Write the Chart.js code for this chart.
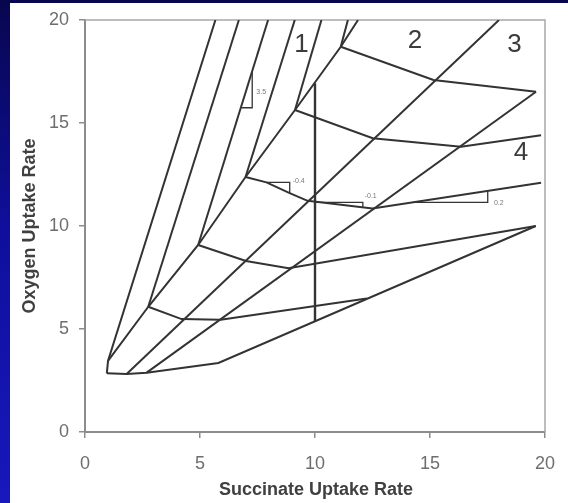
<!DOCTYPE html>
<html>
<head>
<meta charset="utf-8">
<script src="https://cdn.jsdelivr.net/npm/chart.js@4.4.1/dist/chart.umd.min.js"></script>
<style>
  html, body { margin: 0; padding: 0; width: 568px; height: 503px; overflow: hidden; background: #fff; }
  #frame { position: absolute; left: 0; top: 0; width: 568px; height: 503px;
           background: linear-gradient(to bottom, #08064e 0%, #0f0f9c 45%, #1818bc 100%); }
  #sheet { position: absolute; left: 10px; top: 3px; right: 0; bottom: 0; background: #ffffff; }
  #plot { position: absolute; left: 0; top: 0; }
</style>
</head>
<body>
<div id="frame"></div>
<div id="sheet"></div>
<canvas id="plot" width="568" height="503"></canvas>
<script>
// Axis ticks
const xTicks = [0, 5, 10, 15, 20];
const yTicks = [0, 5, 10, 15, 20];

// Lower edge of the feasible region
const edgeX = [0.95, 1.81, 2.68, 5.80, 19.60];
const edgeY = [2.85, 2.82, 2.88, 3.35, 10.00];

// Lines fanning out from the lower-left corner
const fanAX = [0.95, 1.00, 5.67];
const fanAY = [2.85, 3.45, 20.00];
const fanBX = [1.00, 2.75, 4.92, 6.98, 9.13, 11.12, 11.87];
const fanBY = [3.45, 6.08, 9.08, 12.38, 15.63, 18.70, 20.00];
const fanCX = [1.81, 18.00];
const fanCY = [2.82, 20.00];
const fanDX = [2.68, 19.61];
const fanDY = [2.88, 16.52];

// Steep segments rising from each isocline corner
const steep1X = [2.75, 6.69];   const steep1Y = [6.08, 20.00];
const steep2X = [4.92, 7.96];   const steep2Y = [9.08, 20.00];
const steep3X = [6.98, 9.12];   const steep3Y = [12.38, 20.00];
const steep4X = [9.13, 10.28];  const steep4Y = [15.63, 20.00];
const steep5X = [11.12, 11.43]; const steep5Y = [18.70, 20.00];

// Isoclines (constant growth rate)
const iso1X = [2.75, 4.20, 5.90, 12.25];
const iso1Y = [6.08, 5.48, 5.45, 6.48];
const iso2X = [4.92, 7.00, 8.85, 19.60];
const iso2Y = [9.08, 8.30, 7.95, 10.00];
const iso3X = [6.98, 7.89, 8.90, 9.68, 12.50, 19.83];
const iso3Y = [12.38, 12.12, 11.60, 11.22, 10.85, 12.10];
const iso4X = [9.13, 12.51, 16.35, 19.83];
const iso4Y = [15.63, 14.26, 13.85, 14.40];
const iso5X = [11.12, 15.15, 19.61];
const iso5Y = [18.70, 17.09, 16.52];

// Fixed succinate uptake line
const cutX = [10.0, 10.0];
const cutY = [5.38, 16.93];

// Slope triangles
const tri1X = [6.80, 7.27, 7.27];    const tri1Y = [15.74, 15.74, 17.49];
const tri2X = [7.89, 8.90, 8.90];    const tri2Y = [12.12, 12.12, 11.60];
const tri3X = [10.03, 12.08, 12.08]; const tri3Y = [11.15, 11.15, 10.90];
const tri4X = [14.26, 17.51, 17.51]; const tri4Y = [11.15, 11.15, 11.71];

// Slope values and where they are written
const slopeText = ['3.5', '-0.4', '-0.1', '0.2'];
const slopeX = [7.45, 9.03, 12.16, 17.78];
const slopeY = [16.52, 12.16, 11.46, 11.10];

// Phase region numbers
const phaseText = ['1', '2', '3', '4'];
const phaseX = [9.41, 14.35, 18.67, 18.96];
const phaseY = [18.79, 19.00, 18.79, 13.53];

function pts(xs, ys) { return xs.map((x, i) => ({ x: x, y: ys[i] })); }

const lineInk = '#333333';
function series(xs, ys, w) {
  return { data: pts(xs, ys), showLine: true, pointRadius: 0, borderColor: lineInk,
           borderWidth: w || 2, fill: false, tension: 0 };
}

const datasets = [
  series(edgeX, edgeY), series(fanAX, fanAY), series(fanBX, fanBY),
  series(fanCX, fanCY), series(fanDX, fanDY),
  series(steep1X, steep1Y), series(steep2X, steep2Y), series(steep3X, steep3Y),
  series(steep4X, steep4Y), series(steep5X, steep5Y),
  series(iso1X, iso1Y), series(iso2X, iso2Y), series(iso3X, iso3Y),
  series(iso4X, iso4Y), series(iso5X, iso5Y),
  series(cutX, cutY, 2.4),
  series(tri1X, tri1Y, 1.3), series(tri2X, tri2Y, 1.3),
  series(tri3X, tri3Y, 1.3), series(tri4X, tri4Y, 1.3)
];

const decor = {
  id: 'decor',
  beforeDatasetsDraw(chart) {
    const a = chart.chartArea, c = chart.ctx;
    c.save();
    c.strokeStyle = '#a8a8a8';
    c.lineWidth = 1.5;
    c.beginPath();
    c.moveTo(a.left, a.top); c.lineTo(a.right, a.top); c.lineTo(a.right, a.bottom);
    c.stroke();
    c.restore();
  },
  afterDatasetsDraw(chart) {
    const c = chart.ctx, xs = chart.scales.x, ys = chart.scales.y;
    c.save();
    c.fillStyle = '#777';
    c.font = '7px "Liberation Sans", Arial, sans-serif';
    c.textAlign = 'left'; c.textBaseline = 'middle';
    slopeText.forEach((t, i) => c.fillText(t, xs.getPixelForValue(slopeX[i]), ys.getPixelForValue(slopeY[i])));
    c.fillStyle = '#3c3c3c';
    c.font = '26px "Liberation Sans", Arial, sans-serif';
    c.textAlign = 'center';
    phaseText.forEach((t, i) => c.fillText(t, xs.getPixelForValue(phaseX[i]), ys.getPixelForValue(phaseY[i])));
    // axis titles
    c.fillStyle = '#404040';
    c.font = 'bold 18px "Liberation Sans", Arial, sans-serif';
    c.fillText('Succinate Uptake Rate', (chart.chartArea.left + chart.chartArea.right) / 2 + 1, 490);
    c.translate(30, 226);
    c.rotate(-Math.PI / 2);
    c.fillText('Oxygen Uptake Rate', 0, 0);
    c.restore();
  }
};

const tickFont = { family: '"Liberation Sans", Arial, sans-serif', size: 18 };
const axisGray = '#8c8c8c';

new Chart(document.getElementById('plot'), {
  type: 'scatter',
  data: { datasets: datasets },
  options: {
    responsive: false,
    animation: false,
    events: [],
    layout: { padding: { left: 0, top: 20, right: 23, bottom: 0 } },
    plugins: { legend: { display: false }, tooltip: { enabled: false } },
    scales: {
      x: {
        type: 'linear', min: 0, max: 20,
        afterBuildTicks(s) { s.ticks = xTicks.map(v => ({ value: v })); },
        afterFit(s) { s.height = 71; s.paddingLeft = 0; s.paddingRight = 0; },
        ticks: { color: '#6e6e6e', font: tickFont, padding: 15 },
        grid: { drawOnChartArea: false, drawTicks: true, tickLength: 6, color: axisGray, lineWidth: 1.5 },
        border: { display: true, color: axisGray, width: 2 }
      },
      y: {
        type: 'linear', min: 0, max: 20,
        afterBuildTicks(s) { s.ticks = yTicks.map(v => ({ value: v })); },
        afterFit(s) { s.width = 85; s.paddingTop = 0; s.paddingBottom = 0; },
        ticks: { color: '#6e6e6e', font: tickFont, padding: 10 },
        grid: { drawOnChartArea: false, drawTicks: true, tickLength: 6, color: axisGray, lineWidth: 1.5 },
        border: { display: true, color: axisGray, width: 2 }
      }
    }
  },
  plugins: [decor]
});
</script>
</body>
</html>
